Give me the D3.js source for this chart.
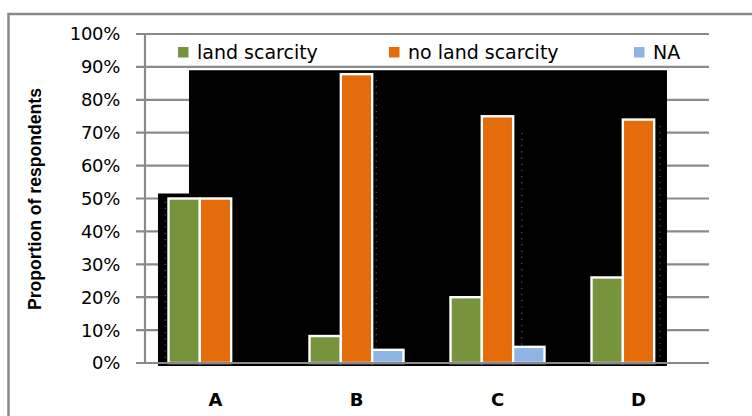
<!DOCTYPE html>
<html>
<head>
<meta charset="utf-8">
<script src="https://cdn.jsdelivr.net/npm/d3@7"></script>
<style>
  html, body { margin: 0; padding: 0; background: #fff; }
  svg { display: block; }
</style>
</head>
<body>
<svg id="chart" width="752" height="416"></svg>
<script>
// Survey groups and the share of respondents in each answer class
const categories = ["A", "B", "C", "D"];
const seriesNames = ["land scarcity", "no land scarcity", "NA"];
const landScarcity = [0.50, 0.082, 0.20, 0.26];
const noLandScarcity = [0.50, 0.878, 0.75, 0.74];
const notAnswered = [0.00, 0.04, 0.049, 0.00];
const yTicks = [0, 0.1, 0.2, 0.3, 0.4, 0.5, 0.6, 0.7, 0.8, 0.9, 1.0];
const seriesColors = ["#77933C", "#E46C0A", "#8EB4E3"];

const seriesValues = [landScarcity, noLandScarcity, notAnswered];

const svg = d3.select("#chart");
const plot = { left: 145, right: 709, top: 34, bottom: 363 };

const x = d3.scaleBand().domain(categories).range([plot.left, plot.right]).padding(0);
const xSeries = d3.scaleBand().domain(seriesNames)
  .range([x.bandwidth() / 6, x.bandwidth() * 5 / 6]).padding(0);
const y = d3.scaleLinear().domain([0, 1]).range([plot.bottom, plot.top]);

const grey = "#8a8a8a";

// outer chart frame
svg.append("rect")
  .attr("x", 8.5).attr("y", 14).attr("width", 800).attr("height", 500)
  .attr("fill", "none").attr("stroke", grey).attr("stroke-width", 2.5);

// horizontal gridlines with outward ticks
svg.append("g")
  .selectAll("line")
  .data(yTicks.filter(d => d > 0))
  .join("line")
  .attr("x1", plot.left - 9).attr("x2", plot.right)
  .attr("y1", d => y(d)).attr("y2", d => y(d))
  .attr("stroke", grey).attr("stroke-width", 2.2);

// dark backdrop panel behind the series
const fx = f => plot.left + f * (plot.right - plot.left);
const backdrop = [
  [0.078, 0.89], [0.9255, 0.89], [0.9255, -0.009], [0.023, -0.009],
  [0.023, 0.515], [0.078, 0.515]
];
svg.append("path")
  .attr("d", d3.line().x(d => fx(d[0])).y(d => y(d[1]))(backdrop) + "Z")
  .attr("fill", "#000");

// faint dotted seams inside the panel
const seams = [[0.036, 0.49], [0.41, 0.86], [0.668, 0.70], [0.913, 0.72]];
svg.append("g")
  .selectAll("line")
  .data(seams)
  .join("line")
  .attr("x1", d => fx(d[0])).attr("x2", d => fx(d[0]))
  .attr("y1", d => y(d[1])).attr("y2", y(0))
  .attr("stroke", "#555").attr("stroke-width", 1.2)
  .attr("stroke-dasharray", "1.2,5");

// y axis line and labels
svg.append("line")
  .attr("x1", plot.left).attr("x2", plot.left)
  .attr("y1", y(1)).attr("y2", y(0))
  .attr("stroke", grey).attr("stroke-width", 2.2);

svg.append("g")
  .selectAll("text")
  .data(yTicks)
  .join("text")
  .attr("x", 120).attr("y", d => y(d))
  .attr("dy", "0.36em")
  .attr("text-anchor", "end")
  .attr("font-family", "DejaVu Sans, sans-serif")
  .attr("font-size", 18)
  .attr("letter-spacing", -0.3)
  .attr("fill", "#000")
  .text(d => d3.format(".0%")(d));

// bars
const groups = svg.append("g")
  .selectAll("g")
  .data(categories)
  .join("g")
  .attr("transform", c => `translate(${x(c)},0)`);

groups.selectAll("rect")
  .data((c, i) => seriesNames.map((s, k) => ({ s, k, v: seriesValues[k][i] })).filter(d => d.v > 0))
  .join("rect")
  .attr("x", d => xSeries(d.s))
  .attr("y", d => y(d.v))
  .attr("width", xSeries.bandwidth())
  .attr("height", d => y(0) - y(d.v))
  .attr("fill", d => seriesColors[d.k])
  .attr("stroke", "#fff")
  .attr("stroke-width", 2.4);

// baseline
svg.append("line")
  .attr("x1", plot.left - 9).attr("x2", plot.right)
  .attr("y1", y(0)).attr("y2", y(0))
  .attr("stroke", grey).attr("stroke-width", 2.2);

// category labels
svg.append("g")
  .selectAll("text")
  .data(categories)
  .join("text")
  .attr("x", c => x(c) + x.bandwidth() / 2)
  .attr("y", 400)
  .attr("dy", "0.36em")
  .attr("text-anchor", "middle")
  .attr("font-family", "DejaVu Sans, sans-serif")
  .attr("font-weight", "bold")
  .attr("font-size", 18)
  .attr("fill", "#000")
  .text(c => c);

// y axis title
svg.append("text")
  .attr("transform", "translate(34,199) rotate(-90)")
  .attr("text-anchor", "middle")
  .attr("dy", "0.36em")
  .attr("font-family", "Liberation Sans Narrow, Liberation Sans, sans-serif")
  .attr("font-weight", "bold")
  .attr("font-size", 18.5)
  .attr("textLength", 222)
  .attr("lengthAdjust", "spacingAndGlyphs")
  .attr("fill", "#000")
  .text("Proportion of respondents");

// legend
const legendX = [178, 389, 634];
const legend = svg.append("g")
  .selectAll("g")
  .data(seriesNames)
  .join("g")
  .attr("transform", (d, i) => `translate(${legendX[i]},52)`);

legend.append("rect")
  .attr("x", 0).attr("y", -5).attr("width", 10.5).attr("height", 10.5)
  .attr("fill", (d, i) => seriesColors[i]);

legend.append("text")
  .attr("x", 19).attr("y", 0)
  .attr("dy", "0.36em")
  .attr("font-family", "DejaVu Sans, sans-serif")
  .attr("font-size", 19)
  .attr("fill", "#000")
  .text(d => d);
</script>
</body>
</html>
